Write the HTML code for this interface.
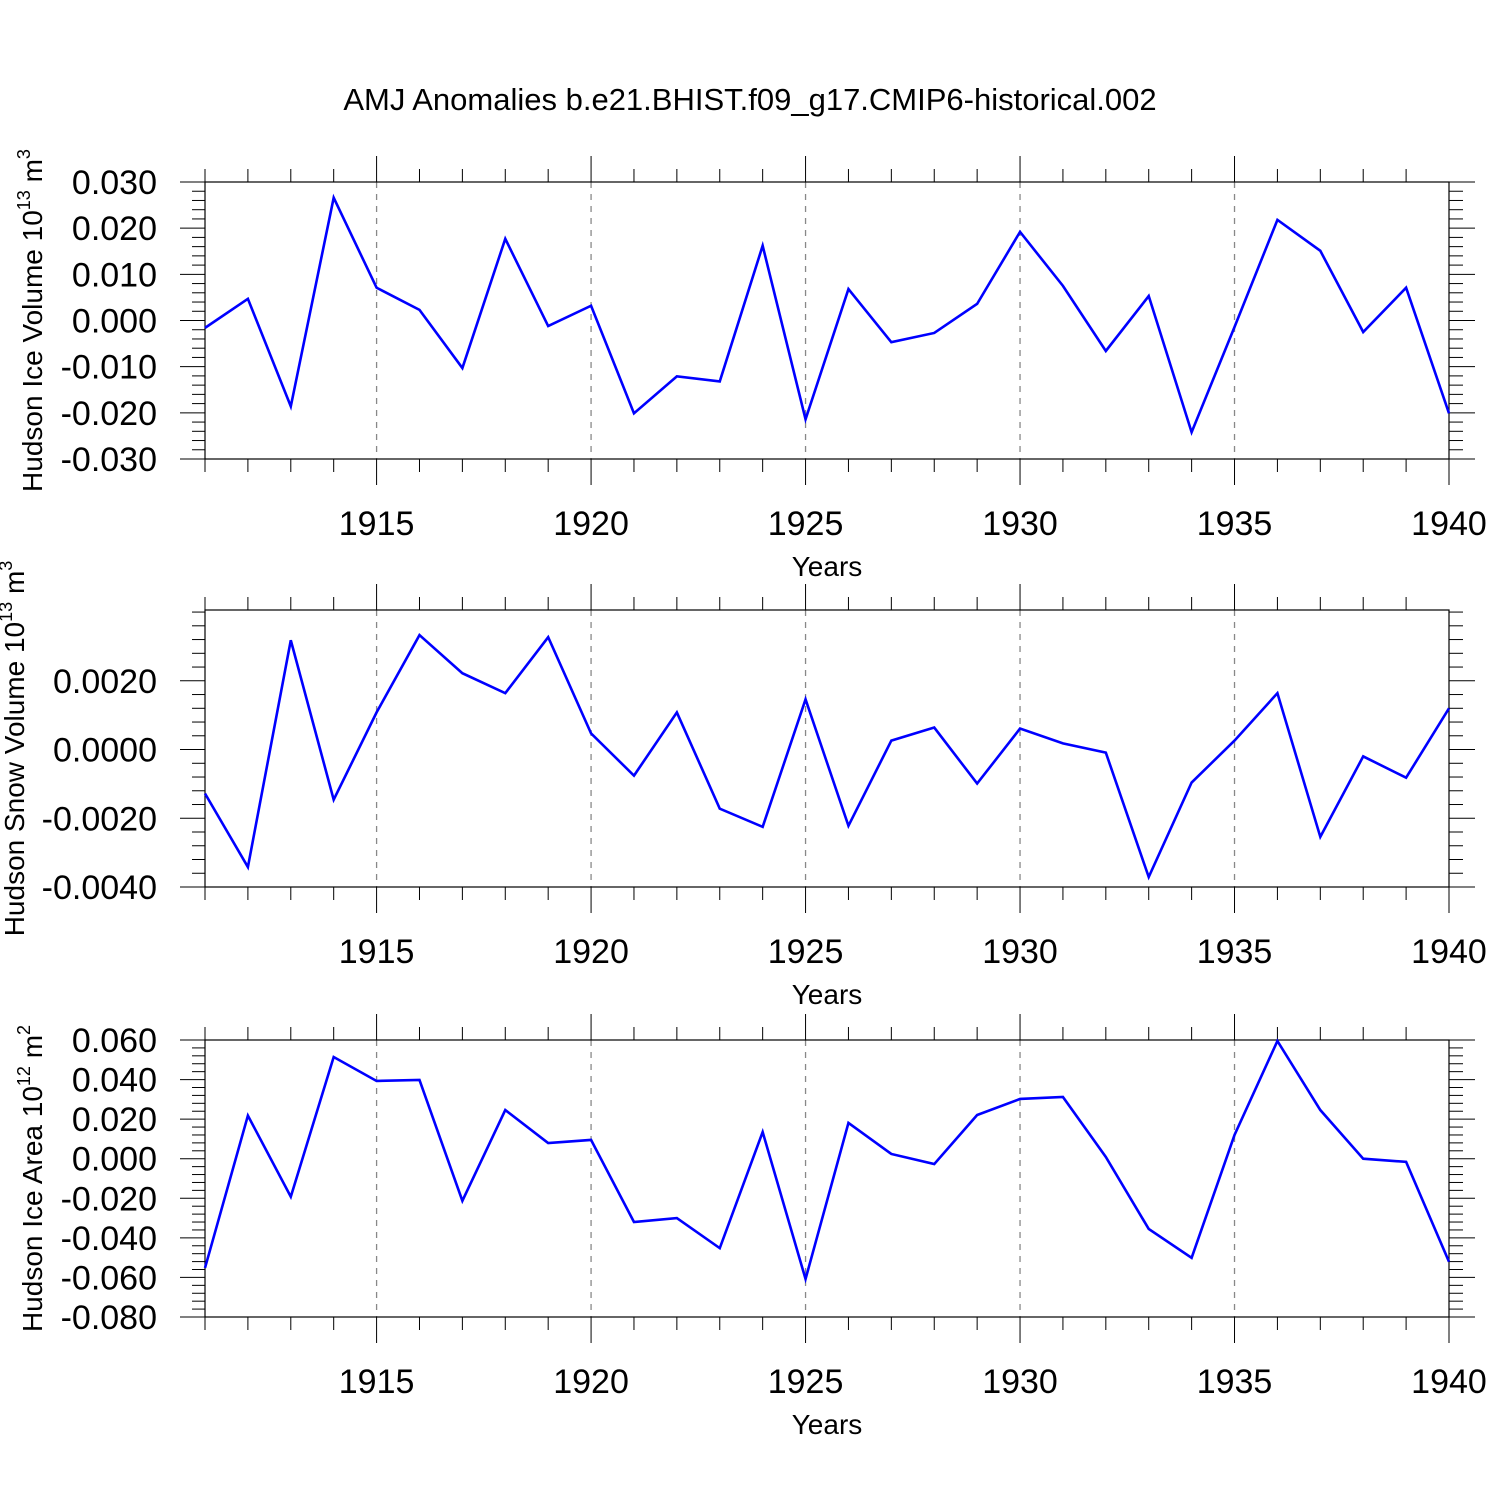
<!DOCTYPE html>
<html><head><meta charset="utf-8"><style>body{margin:0;background:#fff}svg{display:block}</style></head>
<body>
<svg id="c" width="1500" height="1500" xmlns="http://www.w3.org/2000/svg" font-family="Liberation Sans, Arial, sans-serif">
<rect width="1500" height="1500" fill="#fff"/>
<text x="750" y="110" text-anchor="middle" font-size="31">AMJ Anomalies b.e21.BHIST.f09_g17.CMIP6-historical.002</text>
</svg>
<script>
const years = [1911,1912,1913,1914,1915,1916,1917,1918,1919,1920,1921,1922,1923,1924,1925,1926,1927,1928,1929,1930,1931,1932,1933,1934,1935,1936,1937,1938,1939,1940];
const iceVolume = [-0.0016,0.0047,-0.0186,0.0266,0.0071,0.0023,-0.0103,0.0177,-0.0012,0.0032,-0.0201,-0.0121,-0.0132,0.0162,-0.0214,0.0068,-0.0047,-0.0027,0.0036,0.0192,0.0075,-0.0066,0.0053,-0.0242,-0.0014,0.0218,0.0151,-0.0025,0.0071,-0.0201];
const snowVolume = [-0.00128,-0.00342,0.00318,-0.00146,0.00108,0.00333,0.00222,0.00164,0.00327,0.00047,-0.00076,0.00108,-0.00172,-0.00225,0.00146,-0.00222,0.00026,0.00064,-0.00099,0.00061,0.00018,-0.00009,-0.00371,-0.00096,0.00026,0.00164,-0.00254,-0.0002,-0.00082,0.0012];
const iceArea = [-0.0552,0.0218,-0.0192,0.0514,0.0393,0.0398,-0.0213,0.0246,0.0079,0.0095,-0.0320,-0.0300,-0.0452,0.0135,-0.0608,0.0181,0.0024,-0.0027,0.0221,0.0302,0.0312,0.0009,-0.0355,-0.0501,0.0120,0.0595,0.0246,0.0000,-0.0016,-0.0521];
const xTickLabels = [1915,1920,1925,1930,1935,1940];
const iceVolTicks = [-0.03,-0.02,-0.01,0,0.01,0.02,0.03];
const snowTicks = [-0.004,-0.002,0,0.002];
const areaTicks = [-0.08,-0.06,-0.04,-0.02,0,0.02,0.04,0.06];

const NS="http://www.w3.org/2000/svg", svg=document.getElementById('c');
const X0=205,X1=1449,Y0=1911,Y1=1940;
const xs=v=>X0+(v-Y0)/(Y1-Y0)*(X1-X0);
function el(t,a,p){const e=document.createElementNS(NS,t);for(const k in a)e.setAttribute(k,a[k]);(p||svg).appendChild(e);return e;}
function panel(name,top,bot,ymin,ymax,data,ticks,dec,minorStep,label,sup,unit,titleX){
  const g=el('g',{});
  
  
  const ys=v=>bot-(v-ymin)/(ymax-ymin)*(bot-top);
  xTickLabels.slice(0,-1).forEach(y=>{const l=el('line',{x1:xs(y),x2:xs(y),y1:top,y2:bot,stroke:'#888','stroke-width':1.3,'stroke-dasharray':'6,6'},g);
    });
  for(let y=Y0;y<=Y1;y++){const maj=xTickLabels.includes(y);const L=maj?26:13;
    if(y<Y1) el('line',{x1:xs(y),x2:xs(y),y1:top-L,y2:top,stroke:'#000','stroke-width':1},g);
    el('line',{x1:xs(y),x2:xs(y),y1:bot,y2:bot+L,stroke:'#000','stroke-width':1},g);}
  xTickLabels.forEach(y=>{const t=el('text',{x:xs(y),y:bot+76,'text-anchor':'middle','font-size':34},g);t.textContent=y;
    });
  const xt=el('text',{x:827,y:bot+117,'text-anchor':'middle','font-size':28},g);xt.textContent='Years';
  
  const n=Math.round((ymax-ymin)/minorStep);
  for(let i=0;i<=n+1;i++){const v=ymin+i*minorStep;if(v>ymax+1e-9)break;
    const maj=ticks.some(t=>Math.abs(t-v)<minorStep/10);const L=maj?25:13;
    el('line',{x1:X0-L,x2:X0,y1:ys(v),y2:ys(v),stroke:'#000','stroke-width':1},g);
    el('line',{x1:X1,x2:X1+L+1,y1:ys(v),y2:ys(v),stroke:'#000','stroke-width':1},g);}
  ticks.forEach(v=>{const t=el('text',{x:157,y:ys(v)+12,'text-anchor':'end','font-size':34},g);t.textContent=v.toFixed(dec);
    });
  el('rect',{x:X0,y:top,width:X1-X0,height:bot-top,fill:'none',stroke:'#000','stroke-width':1.2},g);
  const pts=data.map((v,i)=>xs(years[i])+','+ys(v)).join(' ');
  const pl=el('polyline',{points:pts,fill:'none',stroke:'#0000ff','stroke-width':2.6,'stroke-linejoin':'miter'},g);
  
  const cy=(top+bot)/2;
  const yt=el('text',{transform:`translate(${titleX},${cy}) rotate(-90)`,'text-anchor':'middle','font-size':28},g);
  
  yt.innerHTML=label+' 10<tspan dy="-12" font-size="18">'+sup+'</tspan><tspan dy="12"> m</tspan><tspan dy="-12" font-size="18">'+unit+'</tspan>';
}
panel('ice-volume',182,459,-0.03,0.03,iceVolume,iceVolTicks,3,0.002,'Hudson Ice Volume','13','3',42);
panel('snow-volume',610,887,-0.004,0.00406,snowVolume,snowTicks,4,0.0004,'Hudson Snow Volume','13','3',24);
panel('ice-area',1040,1317,-0.08,0.06,iceArea,areaTicks,3,0.004,'Hudson Ice Area','12','2',42);
</script>
</body></html>
